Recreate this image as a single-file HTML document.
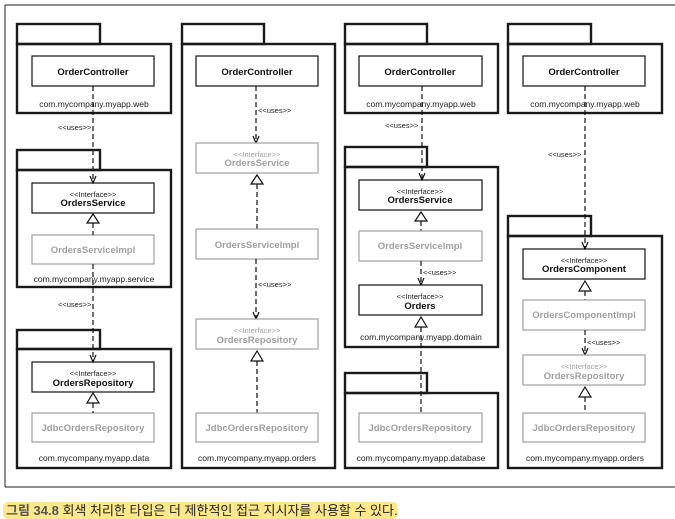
<!DOCTYPE html>
<html><head><meta charset="utf-8"><style>
html,body{margin:0;padding:0;background:#fff;width:675px;height:519px;overflow:hidden}
svg{display:block}
text{font-family:"Liberation Sans","DejaVu Sans",sans-serif}
.pk{fill:none;stroke:#1a1a1a;stroke-width:2.4}
.bx{fill:#fff;stroke:#111;stroke-width:1.2}
.gb{fill:#fff;stroke:#a0a0a0;stroke-width:1.2}
.n{font-size:9.5px;font-weight:bold;fill:#111;text-anchor:middle}
.gn{font-size:9.5px;font-weight:bold;fill:#a0a0a0;text-anchor:middle}
.st{font-size:7.5px;fill:#222;text-anchor:middle}
.gs{font-size:7.5px;fill:#a0a0a0;text-anchor:middle}
.lb{font-size:8.5px;fill:#222;text-anchor:middle}
.us{font-size:7.5px;fill:#222}
.dl{stroke:#111;stroke-width:1.2;stroke-dasharray:5,3;fill:none}
.ar{stroke:#111;stroke-width:1.2;fill:none}
.tr{fill:#fff;stroke:#111;stroke-width:1.2}
</style></head><body>
<svg width="675" height="519" viewBox="0 0 675 519">
<line x1="5" y1="5" x2="675" y2="5" stroke="#222" stroke-width="1"/>
<line x1="5" y1="5" x2="5" y2="487" stroke="#222" stroke-width="1"/>
<line x1="5" y1="487" x2="675" y2="487" stroke="#222" stroke-width="1"/>

<rect class="pk" x="17" y="24" width="83" height="20"/>
<rect class="pk" x="17" y="44" width="154" height="69"/>
<rect class="bx" x="32" y="56" width="122" height="30"/>
<text class="n" x="93" y="75">OrderController</text>
<text class="lb" x="94" y="107">com.mycompany.myapp.web</text>

<rect class="pk" x="17" y="150" width="83" height="20"/>
<rect class="pk" x="17" y="170" width="154" height="117"/>
<rect class="bx" x="32" y="183" width="122" height="30"/>
<text class="st" x="93" y="197">&lt;&lt;Interface&gt;&gt;</text>
<text class="n" x="93" y="206">OrdersService</text>
<rect class="gb" x="32" y="235" width="122" height="29"/>
<text class="gn" x="93" y="253">OrdersServiceImpl</text>
<text class="lb" x="94" y="282">com.mycompany.myapp.service</text>

<rect class="pk" x="17" y="330" width="83" height="19"/>
<rect class="pk" x="17" y="349" width="154" height="119"/>
<rect class="bx" x="32" y="362" width="122" height="30"/>
<text class="st" x="93" y="376">&lt;&lt;Interface&gt;&gt;</text>
<text class="n" x="93" y="386">OrdersRepository</text>
<rect class="gb" x="32" y="413" width="122" height="29"/>
<text class="gn" x="93" y="431">JdbcOrdersRepository</text>
<text class="lb" x="94" y="461">com.mycompany.myapp.data</text>

<line class="dl" x1="93" y1="86" x2="93" y2="182"/>
<polyline class="ar" points="90,176 93,183 96,176"/>
<text class="us" x="58" y="130">&lt;&lt;uses&gt;&gt;</text>
<polygon class="tr" points="93,214 87,223 99,223"/>
<line class="dl" x1="93" y1="223" x2="93" y2="235"/>
<line class="dl" x1="93" y1="264" x2="93" y2="361"/>
<polyline class="ar" points="90,355 93,362 96,355"/>
<text class="us" x="58" y="307">&lt;&lt;uses&gt;&gt;</text>
<polygon class="tr" points="93,393 87,403 99,403"/>
<line class="dl" x1="93" y1="403" x2="93" y2="413"/>

<rect class="pk" x="182" y="24" width="82" height="20"/>
<rect class="pk" x="182" y="44" width="153" height="424"/>
<rect class="bx" x="196" y="56" width="122" height="30"/>
<text class="n" x="257" y="75">OrderController</text>
<line class="dl" x1="256" y1="86" x2="256" y2="142"/>
<polyline class="ar" points="253,136 256,143 259,136"/>
<text class="us" x="258" y="113">&lt;&lt;uses&gt;&gt;</text>
<rect class="gb" x="196" y="143" width="122" height="30"/>
<text class="gs" x="257" y="157">&lt;&lt;Interface&gt;&gt;</text>
<text class="gn" x="257" y="166">OrdersService</text>
<polygon class="tr" points="257,175 251,184 263,184"/>
<line class="dl" x1="257" y1="184" x2="257" y2="229"/>
<rect class="gb" x="196" y="229" width="122" height="30"/>
<text class="gn" x="257" y="248">OrdersServiceImpl</text>
<line class="dl" x1="256" y1="259" x2="256" y2="318"/>
<polyline class="ar" points="253,312 256,319 259,312"/>
<text class="us" x="258" y="287">&lt;&lt;uses&gt;&gt;</text>
<rect class="gb" x="196" y="319" width="122" height="30"/>
<text class="gs" x="257" y="333">&lt;&lt;Interface&gt;&gt;</text>
<text class="gn" x="257" y="343">OrdersRepository</text>
<polygon class="tr" points="257,351 251,361 263,361"/>
<line class="dl" x1="257" y1="361" x2="257" y2="413"/>
<rect class="gb" x="196" y="413" width="122" height="29"/>
<text class="gn" x="257" y="431">JdbcOrdersRepository</text>
<text class="lb" x="257" y="461">com.mycompany.myapp.orders</text>

<rect class="pk" x="345" y="24" width="82" height="20"/>
<rect class="pk" x="345" y="44" width="153" height="69"/>
<rect class="bx" x="359" y="56" width="123" height="30"/>
<text class="n" x="420" y="75">OrderController</text>
<text class="lb" x="421" y="107">com.mycompany.myapp.web</text>

<rect class="pk" x="345" y="147" width="82" height="20"/>
<rect class="pk" x="345" y="167" width="153" height="180"/>
<rect class="bx" x="359" y="180" width="123" height="30"/>
<text class="st" x="420" y="194">&lt;&lt;Interface&gt;&gt;</text>
<text class="n" x="420" y="203">OrdersService</text>
<polygon class="tr" points="421,212 415,221 427,221"/>
<line class="dl" x1="421" y1="221" x2="421" y2="231"/>
<rect class="gb" x="359" y="231" width="123" height="30"/>
<text class="gn" x="420" y="249">OrdersServiceImpl</text>
<line class="dl" x1="421" y1="261" x2="421" y2="284"/>
<polyline class="ar" points="418,278 421,285 424,278"/>
<text class="us" x="423" y="275">&lt;&lt;uses&gt;&gt;</text>
<rect class="bx" x="359" y="285" width="123" height="30"/>
<text class="st" x="420" y="299">&lt;&lt;Interface&gt;&gt;</text>
<text class="n" x="420" y="309">Orders</text>
<text class="lb" x="421" y="340">com.mycompany.myapp.domain</text>

<rect class="pk" x="345" y="373" width="82" height="20"/>
<rect class="pk" x="345" y="393" width="153" height="75"/>
<rect class="gb" x="359" y="413" width="123" height="29"/>
<text class="gn" x="420" y="431">JdbcOrdersRepository</text>
<text class="lb" x="421" y="461">com.mycompany.myapp.database</text>
<polygon class="tr" points="421,317 415,327 427,327"/>
<line class="dl" x1="421" y1="327" x2="421" y2="413"/>

<line class="dl" x1="422" y1="86" x2="422" y2="179"/>
<polyline class="ar" points="419,173 422,180 425,173"/>
<text class="us" x="385" y="128">&lt;&lt;uses&gt;&gt;</text>

<rect class="pk" x="508" y="24" width="83" height="20"/>
<rect class="pk" x="508" y="44" width="154" height="69"/>
<rect class="bx" x="523" y="56" width="122" height="30"/>
<text class="n" x="584" y="75">OrderController</text>
<text class="lb" x="585" y="107">com.mycompany.myapp.web</text>

<rect class="pk" x="508" y="216" width="83" height="20"/>
<rect class="pk" x="508" y="236" width="154" height="232"/>
<rect class="bx" x="523" y="249" width="122" height="30"/>
<text class="st" x="584" y="263">&lt;&lt;Interface&gt;&gt;</text>
<text class="n" x="584" y="272">OrdersComponent</text>
<polygon class="tr" points="585,281 579,291 591,291"/>
<line class="dl" x1="585" y1="291" x2="585" y2="300"/>
<rect class="gb" x="523" y="300" width="122" height="30"/>
<text class="gn" x="584" y="318">OrdersComponentImpl</text>
<line class="dl" x1="585" y1="330" x2="585" y2="354"/>
<polyline class="ar" points="582,348 585,355 588,348"/>
<text class="us" x="587" y="345">&lt;&lt;uses&gt;&gt;</text>
<rect class="gb" x="523" y="355" width="122" height="30"/>
<text class="gs" x="584" y="369">&lt;&lt;Interface&gt;&gt;</text>
<text class="gn" x="584" y="379">OrdersRepository</text>
<polygon class="tr" points="585,387 579,397 591,397"/>
<line class="dl" x1="585" y1="397" x2="585" y2="413"/>
<rect class="gb" x="523" y="413" width="122" height="29"/>
<text class="gn" x="584" y="431">JdbcOrdersRepository</text>
<text class="lb" x="585" y="461">com.mycompany.myapp.orders</text>

<line class="dl" x1="585" y1="86" x2="585" y2="248"/>
<polyline class="ar" points="582,242 585,249 588,242"/>
<text class="us" x="548" y="157">&lt;&lt;uses&gt;&gt;</text>

<rect x="3" y="502" width="395" height="17" rx="5" fill="#fbe88a"/>
<text x="6" y="515" style="font-family:'Liberation Sans','Noto Sans CJK KR',sans-serif;font-size:13px;fill:#222"><tspan font-weight="bold" fill="#555">그림 34.8</tspan> 회색 처리한 타입은 더 제한적인 접근 지시자를 사용할 수 있다.</text>
</svg>
</body></html>
